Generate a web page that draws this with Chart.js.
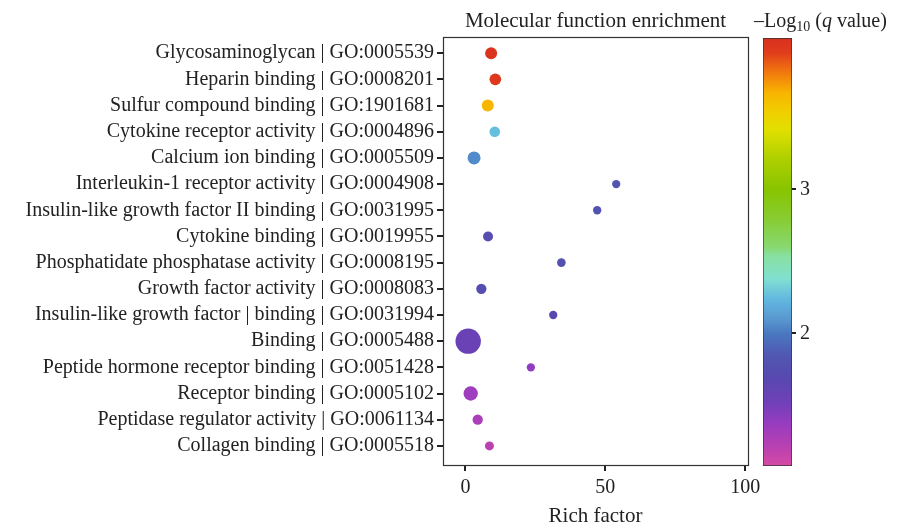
<!DOCTYPE html>
<html>
<head>
<meta charset="utf-8">
<script src="https://cdn.jsdelivr.net/npm/chart.js@4.4.1/dist/chart.umd.min.js"></script>
<style>
  html, body { margin: 0; padding: 0; background: #fff; }
  #wrap { position: relative; width: 897px; height: 529px; overflow: hidden; }
  #mainChart { position: absolute; left: 0; top: 0; }
  #barChart { position: absolute; left: 755px; top: 0; }
  #cbTitle { position: absolute; left: 754px; top: 8px; font: 20px 'Liberation Serif', serif; color: #222; white-space: nowrap; line-height: 24px; }
  #cbTitle sub { font-size: 14px; vertical-align: -4px; line-height: 0; }
</style>
</head>
<body>
<div id="wrap">
  <canvas id="mainChart" width="897" height="529"></canvas>
  <canvas id="barChart" width="142" height="529"></canvas>
  <div id="cbTitle">&ndash;Log<sub>10</sub> (<i>q</i> value)</div>
</div>
<script>
// GO terms, top to bottom
const terms = [
    'Glycosaminoglycan | GO:0005539',
    'Heparin binding | GO:0008201',
    'Sulfur compound binding | GO:1901681',
    'Cytokine receptor activity | GO:0004896',
    'Calcium ion binding | GO:0005509',
    'Interleukin-1 receptor activity | GO:0004908',
    'Insulin-like growth factor II binding | GO:0031995',
    'Cytokine binding | GO:0019955',
    'Phosphatidate phosphatase activity | GO:0008195',
    'Growth factor activity | GO:0008083',
    'Insulin-like growth factor | binding | GO:0031994',
    'Binding | GO:0005488',
    'Peptide hormone receptor binding | GO:0051428',
    'Receptor binding | GO:0005102',
    'Peptidase regulator activity | GO:0061134',
    'Collagen binding | GO:0005518'
];
const richFactor = [9.2, 10.7, 8.0, 10.5, 3.1, 53.9, 47.1, 8.1, 34.3, 5.7, 31.4, 1.0, 23.4, 1.9, 4.4, 8.6];
const geneCount = [23, 22, 23, 18, 27, 11, 11, 16, 12, 17, 11, 103, 11, 33, 17, 13];
const negLogQ = [4.02, 3.98, 3.66, 2.26, 2.06, 1.8, 1.8, 1.74, 1.78, 1.74, 1.7, 1.56, 1.4, 1.34, 1.28, 1.2];
const xTicks = [0, 50, 100];
const cbTicks = [2, 3];
const cbRange = [1.08, 4.05];

// colour scale (value, colour)
const colorStops = [
    [1.08, '#d64aa4'],
    [1.22, '#b840b2'],
    [1.38, '#963cc0'],
    [1.52, '#7040b8'],
    [1.69, '#5848b0'],
    [1.85, '#5058b2'],
    [2.0, '#4a78c0'],
    [2.1, '#5898d0'],
    [2.24, '#62b8e0'],
    [2.38, '#80e0d0'],
    [2.54, '#88e0a0'],
    [2.6, '#88d870'],
    [2.8, '#88cc30'],
    [3.0, '#88c400'],
    [3.22, '#b0d000'],
    [3.41, '#e0e000'],
    [3.53, '#f0d000'],
    [3.67, '#f8b400'],
    [3.83, '#f07010'],
    [3.95, '#e03c1c'],
    [4.05, '#d83020']
];

Chart.defaults.font.family = "'Liberation Serif', 'Times New Roman', serif";
Chart.defaults.font.size = 20;
Chart.defaults.color = '#222';

function hexToRgb(h) {
    const n = parseInt(h.slice(1), 16);
    return [(n >> 16) & 255, (n >> 8) & 255, n & 255];
}

function colorFor(v) {
    if (v <= colorStops[0][0]) return colorStops[0][1];
    for (let i = 1; i < colorStops.length; i++) {
        const [v1, c1] = colorStops[i];
        if (v <= v1) {
            const [v0, c0] = colorStops[i - 1];
            const t = (v - v0) / (v1 - v0);
            const a = hexToRgb(c0), b = hexToRgb(c1);
            const m = a.map((x, k) => Math.round(x + (b[k] - x) * t));
            return `rgb(${m[0]}, ${m[1]}, ${m[2]})`;
        }
    }
    return colorStops[colorStops.length - 1][1];
}

// box around plot area
const frame = {
    id: 'frame',
    afterDraw(chart) {
        const { ctx, chartArea: a } = chart;
        ctx.save();
        ctx.strokeStyle = '#333';
        ctx.lineWidth = 1.2;
        ctx.strokeRect(Math.round(a.left) + 0.5, Math.round(a.top) + 0.5,
            Math.round(a.right - a.left), Math.round(a.bottom - a.top));
        ctx.restore();
    }
};

new Chart(document.getElementById('mainChart'), {
    type: 'bubble',
    data: {
        datasets: [{
            data: terms.map((t, i) => ({ x: richFactor[i], y: i, r: 1.25 * Math.sqrt(geneCount[i]) })),
            backgroundColor: negLogQ.map(colorFor),
            borderWidth: 0,
            hoverBorderWidth: 0
        }]
    },
    options: {
        responsive: false,
        animation: false,
        events: [],
        layout: { padding: { left: 0, right: 149, top: 0, bottom: 0 } },
        plugins: {
            legend: { display: false },
            tooltip: { enabled: false },
            title: {
                display: true,
                text: 'Molecular function enrichment',
                fullSize: false,
                color: '#222',
                font: { size: 21, weight: 'normal' },
                padding: { top: 9, bottom: 3 }
            }
        },
        scales: {
            x: {
                type: 'linear',
                min: -8,
                max: 101,
                afterBuildTicks: axis => { axis.ticks = xTicks.map(v => ({ value: v })); },
                afterFit: axis => { axis.height = 64; },
                grid: { drawOnChartArea: false, drawTicks: true, tickLength: 6, lineWidth: 2, color: '#222' },
                border: { display: false },
                ticks: { padding: 5, color: '#222' },
                title: { display: true, text: 'Rich factor', color: '#222', font: { size: 21 }, padding: { top: 2, bottom: 0 } }
            },
            y: {
                type: 'linear',
                reverse: true,
                min: -0.61,
                max: 15.73,
                afterBuildTicks: axis => { axis.ticks = terms.map((t, i) => ({ value: i })); },
                afterFit: axis => { axis.width = 443; },
                grid: { drawOnChartArea: false, drawTicks: true, tickLength: 6, lineWidth: 2, color: '#222' },
                border: { display: false },
                ticks: {
                    padding: 3,
                    color: '#222',
                    callback: v => terms[v]
                }
            }
        }
    },
    plugins: [frame]
});

// colour bar
new Chart(document.getElementById('barChart'), {
    type: 'bar',
    data: {
        labels: [''],
        datasets: [{
            data: [cbRange],
            barPercentage: 1,
            categoryPercentage: 1,
            borderWidth: 1,
            borderColor: '#333',
            borderSkipped: false,
            backgroundColor: context => {
                const chart = context.chart;
                const a = chart.chartArea;
                if (!a) return '#888';
                const y = chart.scales.y;
                const g = chart.ctx.createLinearGradient(0, y.getPixelForValue(cbRange[0]), 0, y.getPixelForValue(cbRange[1]));
                colorStops.forEach(([v, c]) => {
                    g.addColorStop((v - cbRange[0]) / (cbRange[1] - cbRange[0]), c);
                });
                return g;
            }
        }]
    },
    options: {
        responsive: false,
        animation: false,
        events: [],
        layout: { padding: { left: 8, right: 0, top: 38, bottom: 63 } },
        plugins: { legend: { display: false }, tooltip: { enabled: false } },
        scales: {
            x: { display: false },
            y: {
                position: 'right',
                min: cbRange[0],
                max: cbRange[1],
                afterBuildTicks: axis => { axis.ticks = cbTicks.map(v => ({ value: v })); },
                afterFit: axis => { axis.width = 105; },
                grid: { drawOnChartArea: false, drawTicks: true, tickLength: 4, lineWidth: 2, color: '#222' },
                border: { display: false },
                ticks: { padding: 4, color: '#222' }
            }
        }
    }
});
</script>
</body>
</html>
